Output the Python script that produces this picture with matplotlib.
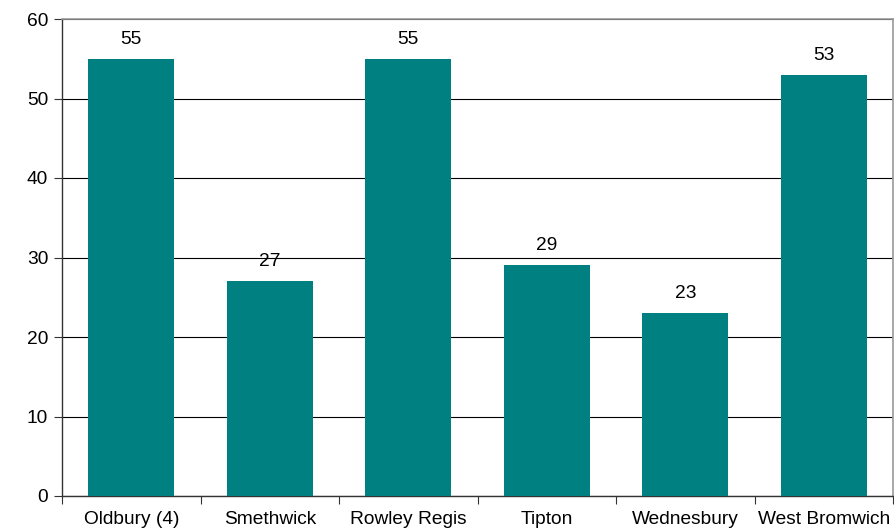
import matplotlib
matplotlib.use("Agg")
import matplotlib.pyplot as plt
import numpy as np

categories = ["Oldbury (4)", "Smethwick", "Rowley Regis", "Tipton", "Wednesbury", "West Bromwich"]
values = [55, 27, 55, 29, 23, 53]
yticks = [0, 10, 20, 30, 40, 50, 60]

plt.rcParams['font.family'] = ['Liberation Sans', 'DejaVu Sans']
FS = 13.8

fig = plt.figure(figsize=(8.94, 5.30), dpi=100)
ax = fig.add_axes([62/894, 1 - 496/530, (893-62)/894, (496-19)/530])

x = np.arange(len(categories))
bars = ax.bar(x, values, width=0.62, color="#008080", zorder=3)
for xi, v in zip(x, values):
    ax.text(xi, v + 1.4, str(v), ha="center", va="bottom", fontsize=FS, color="black")

ax.set_xlim(-0.5, len(categories) - 0.5)
ax.set_ylim(0, 60)
ax.set_yticks(yticks)
ax.set_yticklabels([str(t) for t in yticks], fontsize=FS)
ax.yaxis.grid(True, color="#000000", linewidth=0.8, zorder=0)
ax.set_axisbelow(True)

ax.set_xticks(np.arange(-0.5, len(categories) + 0.5, 1))
ax.set_xticklabels([])
ax.set_xticks(x, minor=True)
ax.set_xticklabels(categories, minor=True, fontsize=FS)
ax.tick_params(axis="x", which="minor", length=0, pad=11)
ax.tick_params(axis="x", which="major", length=6, direction="out", color="#333333")
ax.tick_params(axis="y", length=6, direction="out", color="#333333", pad=4)

for s in ["top", "right"]:
    ax.spines[s].set_color("#999999")
    ax.spines[s].set_linewidth(1.2)
for s in ["left", "bottom"]:
    ax.spines[s].set_color("#333333")
    ax.spines[s].set_linewidth(1.0)

fig.savefig("out.png", dpi=100)
